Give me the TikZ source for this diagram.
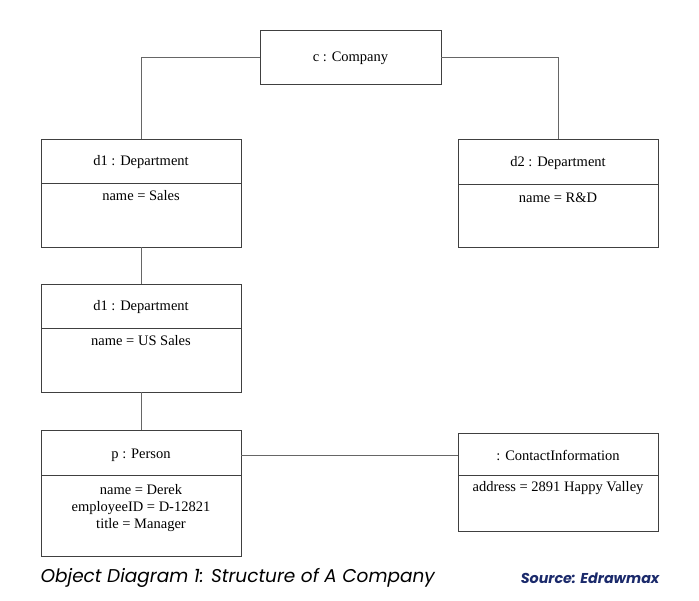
\documentclass[tikz,border=0pt]{standalone}
\usepackage{fontspec}
\setmainfont{Liberation Serif}
\newfontfamily\capfont{Poppins}
\usetikzlibrary{positioning}
\tikzset{every picture/.style={line width=0.6pt}}
\tikzset{obj/.style={draw=black!75, minimum width=200pt, inner sep=0pt},
         lnk/.style={draw=black!60}}
\definecolor{navy}{HTML}{1B2A6B}
\begin{document}
\begin{tikzpicture}[x=1pt,y=-1pt,font=\fontsize{14.5}{17}\selectfont]
\useasboundingbox (0,0) rectangle (699,600);
\node[obj, minimum width=181pt, minimum height=54pt] (c) at (350.5,57) {};
%
\node[obj, minimum height=108pt] (d1) at (141,193) {};
\node[obj, minimum height=108pt] (d2) at (558,193) {};
\node[obj, minimum height=108pt] (d3) at (141,338) {};
\node[obj, minimum height=126pt] (p) at (141,493) {};
\node[obj, minimum height=98pt] (ci) at (558,482) {};
%
\draw[black!75] (41,183) -- (241,183);
\draw[black!75] (458,184) -- (658,184);
\draw[black!75] (41,328) -- (241,328);
\draw[black!75] (41,475) -- (241,475);
\draw[black!75] (458,475) -- (658,475);
%
\node (ct) at (350.5,58) {c : Company};
\node (d1t) at (141,162) {d1 : Department};
\node (d1a) at (141,196) {name = Sales};
\node (d2t) at (558,163) {d2 : Department};
\node (d2a) at (558,198) {name = R\&D};
\node (d3t) at (141,307) {d1 : Department};
\node (d3a) at (141,341) {name = US Sales};
\node (pt) at (141,455) {p : Person};
\node[align=center] (pa) at (141,508) {name = Derek\\employeeID = D-12821\\title = Manager};
\node (cit) at (558,455) {: ContactInformation};
\node (cia) at (558,488) {address = 2891 Happy Valley};
%
\draw[lnk] (c.west) -| (d1.north);
\draw[lnk] (c.east) -| (d2.north);
\draw[lnk] (d1.south) -- (d3.north);
\draw[lnk] (d3.south) -- (p.north);
\draw[lnk] (p.east |- 0,455) -- (ci.west |- 0,455);
%
\node[anchor=west, font=\capfont\itshape\fontsize{18.5}{21}\selectfont] (cap) at (37,578) {Object Diagram 1: Structure of A Company};
\node[anchor=east, text=navy, font=\capfont\bfseries\itshape\fontsize{14.3}{16}\selectfont] (src) at (663,578) {Source: Edrawmax};
\end{tikzpicture}
\end{document}
